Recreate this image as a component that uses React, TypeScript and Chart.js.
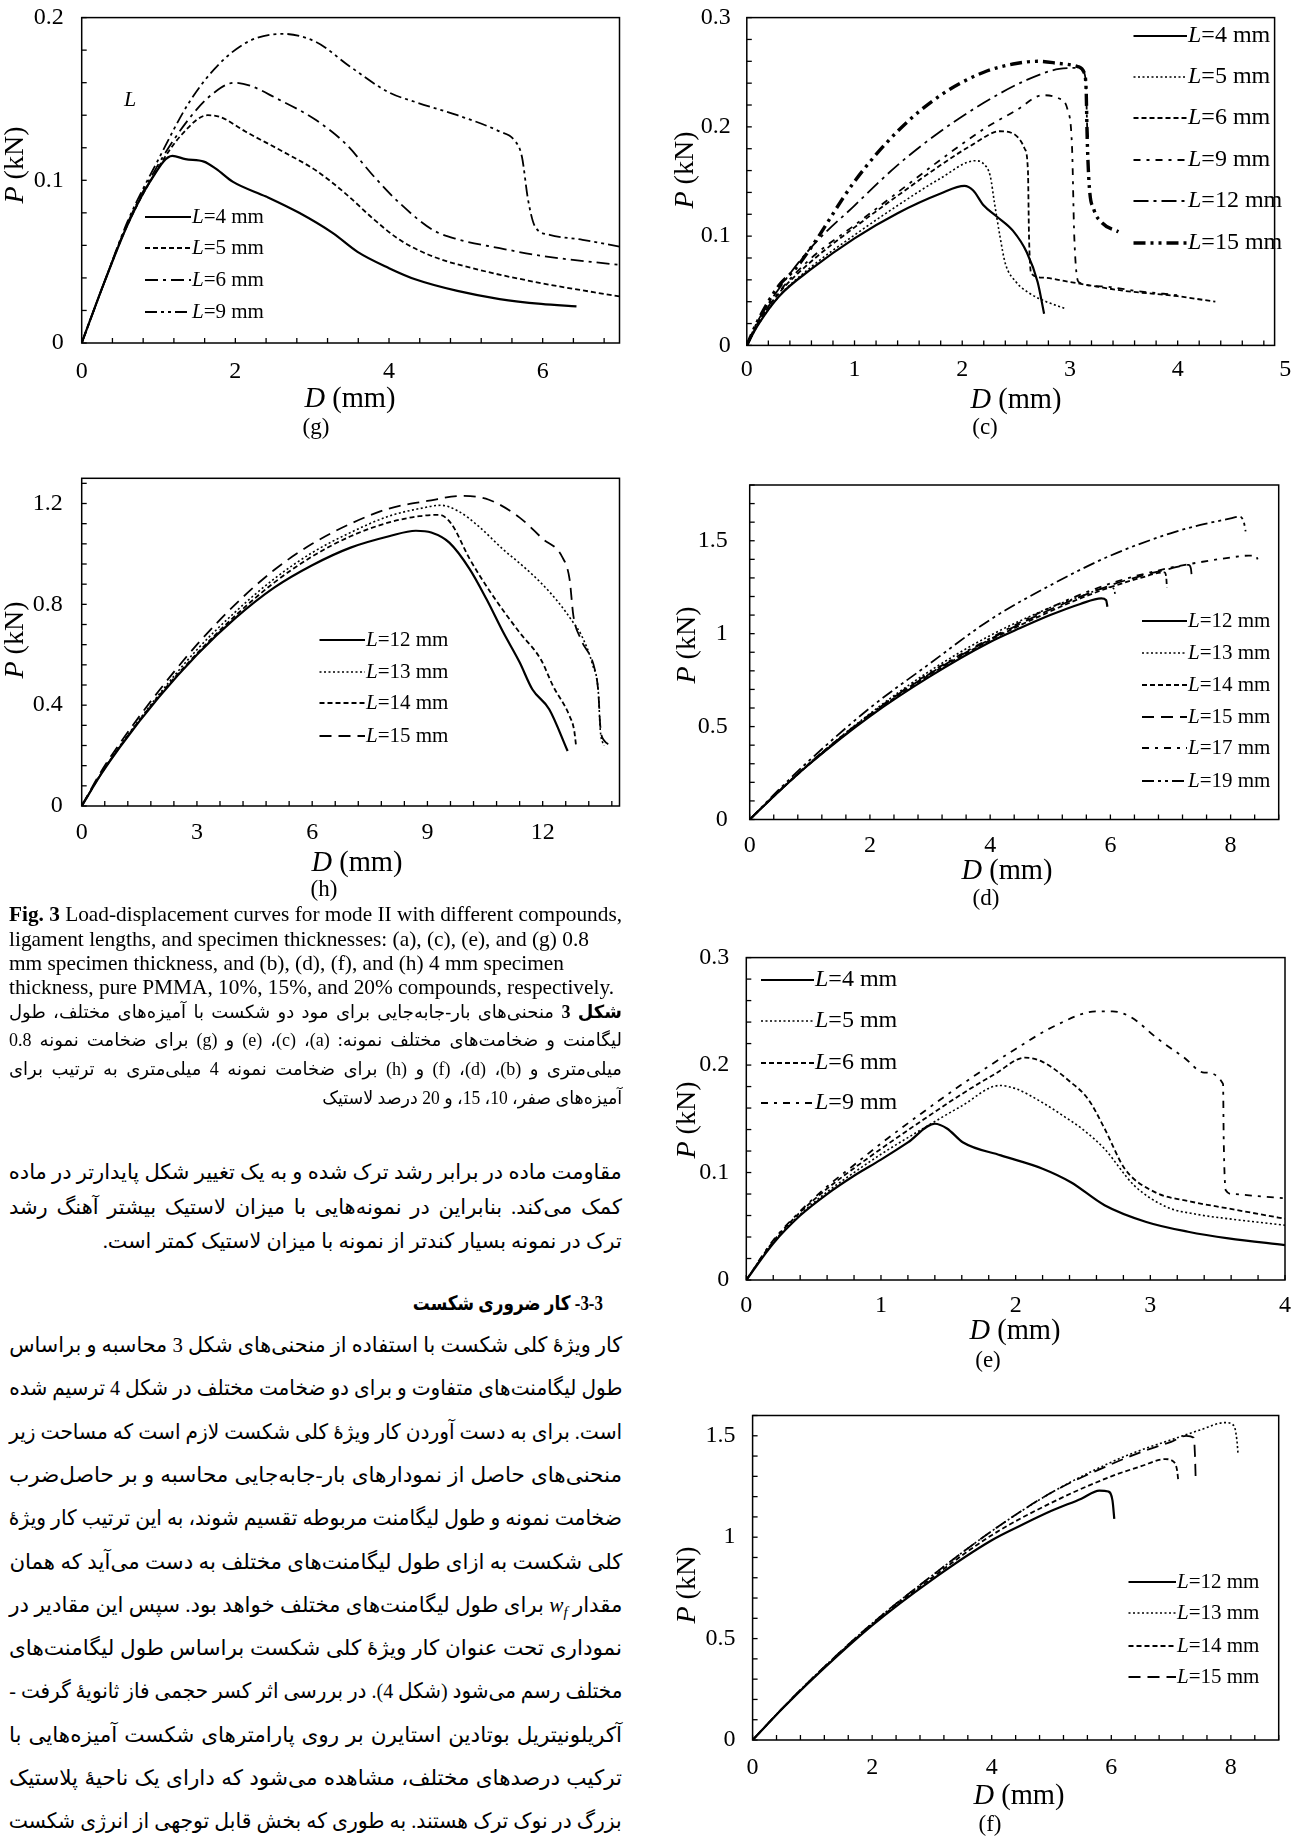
import React, { useEffect, useLayoutEffect, useRef } from 'react';
import { Chart, registerables } from 'chart.js';
Chart.register(...registerables);

const SERIF = '"Liberation Serif", "Times New Roman", serif';
const FA = '"Liberation Serif", "DejaVu Sans", sans-serif';
const Z = '\u200c';

// ---------------- (g) 0.8 mm, 20% ----------------
const G_L4_X = [0, 0.3, 0.6, 0.9, 1.18, 1.35, 1.59, 1.75, 1.97, 2.4, 2.83, 3.27, 3.59, 4.0, 4.35, 4.89, 5.44, 5.98, 6.44];
const G_L4_Y = [0, 0.038, 0.073, 0.1, 0.115, 0.113, 0.1115, 0.107, 0.099, 0.09, 0.08, 0.0675, 0.056, 0.046, 0.039, 0.032, 0.027, 0.024, 0.0225];
const G_L5_X = [0, 0.3, 0.6, 1.0, 1.3, 1.64, 1.8, 2.13, 2.62, 3.05, 3.43, 3.81, 4.14, 4.57, 5.17, 5.98, 7.0];
const G_L5_Y = [0, 0.038, 0.073, 0.108, 0.128, 0.14, 0.139, 0.13, 0.1176, 0.106, 0.092, 0.0757, 0.0634, 0.0532, 0.045, 0.0368, 0.0286];
const G_L6_X = [0, 0.3, 0.6, 1.0, 1.4, 1.7, 1.99, 2.2, 2.51, 3.05, 3.43, 3.81, 4.14, 4.57, 4.89, 5.44, 5.98, 7.0];
const G_L6_Y = [0, 0.038, 0.074, 0.11, 0.138, 0.153, 0.16, 0.158, 0.151, 0.137, 0.1227, 0.102, 0.0859, 0.0695, 0.0638, 0.0583, 0.0536, 0.048];
const G_L9_X = [0, 0.3, 0.6, 1.0, 1.4, 1.8, 2.2, 2.62, 3.05, 3.49, 4.0, 4.35, 4.89, 5.44, 5.63, 5.73, 5.81, 5.9, 6.09, 6.52, 7.0];
const G_L9_Y = [0, 0.038, 0.075, 0.113, 0.148, 0.172, 0.186, 0.19, 0.185, 0.17, 0.154, 0.148, 0.14, 0.13, 0.1247, 0.1145, 0.088, 0.0716, 0.0665, 0.0634, 0.0593];

// ---------------- (c) 0.8 mm, 10% ----------------
const C_L4_X = [0, 0.1, 0.3, 0.6, 1.0, 1.4, 1.8, 2.02, 2.1, 2.2, 2.32, 2.47, 2.6, 2.7, 2.76];
const C_L4_Y = [0, 0.018, 0.045, 0.07, 0.098, 0.121, 0.139, 0.146, 0.142, 0.128, 0.118, 0.105, 0.085, 0.058, 0.029];
const C_L5_X = [0, 0.1, 0.3, 0.6, 1.0, 1.4, 1.8, 2.12, 2.2, 2.26, 2.3, 2.35, 2.4, 2.5, 2.62, 2.78, 2.95];
const C_L5_Y = [0, 0.018, 0.045, 0.072, 0.101, 0.128, 0.153, 0.169, 0.166, 0.155, 0.13, 0.1, 0.075, 0.058, 0.048, 0.04, 0.034];
const C_L6_X = [0, 0.1, 0.3, 0.6, 1.0, 1.4, 1.8, 2.1, 2.35, 2.5, 2.58, 2.61, 2.62, 2.64, 2.75, 3.0, 3.5, 4.0, 4.35];
const C_L6_Y = [0, 0.02, 0.048, 0.077, 0.108, 0.137, 0.165, 0.184, 0.196, 0.192, 0.18, 0.16, 0.1, 0.066, 0.062, 0.058, 0.05, 0.045, 0.04];
const C_L9_X = [0, 0.1, 0.3, 0.6, 1.0, 1.4, 1.8, 2.2, 2.5, 2.75, 2.9, 2.98, 3.02, 3.04, 3.08, 3.3, 3.6, 4.0];
const C_L9_Y = [0, 0.02, 0.049, 0.08, 0.11, 0.14, 0.17, 0.198, 0.215, 0.229, 0.226, 0.215, 0.18, 0.1, 0.058, 0.054, 0.05, 0.046];
const C_L12_X = [0, 0.1, 0.3, 0.6, 1.0, 1.4, 1.8, 2.2, 2.6, 2.9, 3.08, 3.13, 3.15, 3.16, 3.17];
const C_L12_Y = [0, 0.022, 0.052, 0.09, 0.128, 0.165, 0.196, 0.222, 0.243, 0.253, 0.254, 0.25, 0.235, 0.2, 0.19];
const C_L15_X = [0, 0.1, 0.3, 0.45, 0.6, 1.0, 1.4, 1.8, 2.2, 2.5, 2.7, 2.9, 3.08, 3.13, 3.15, 3.16, 3.18, 3.22, 3.3, 3.45];
const C_L15_Y = [0, 0.022, 0.055, 0.07, 0.09, 0.15, 0.196, 0.229, 0.25, 0.258, 0.26, 0.258, 0.255, 0.25, 0.235, 0.19, 0.145, 0.125, 0.112, 0.104];

// ---------------- (h) 4 mm, 20% ----------------
const H_L12_X = [0, 0.5, 1, 2, 3, 4, 5, 6, 7, 8, 8.7, 9.1, 9.57, 10.1, 10.54, 10.97, 11.4, 11.73, 12.17, 12.65];
const H_L12_Y = [0, 0.125, 0.235, 0.43, 0.6, 0.745, 0.865, 0.955, 1.025, 1.07, 1.092, 1.085, 1.045, 0.94, 0.82, 0.69, 0.57, 0.463, 0.384, 0.218];
const H_L13_X = [0, 0.5, 1, 2, 3, 4, 5, 6, 7, 8, 8.8, 9.35, 9.8, 10.33, 10.97, 11.5, 11.95, 12.4, 12.8, 13.0, 13.3, 13.45, 13.5, 13.6];
const H_L13_Y = [0, 0.128, 0.24, 0.44, 0.62, 0.77, 0.9, 1.005, 1.085, 1.15, 1.18, 1.193, 1.17, 1.11, 1.018, 0.95, 0.886, 0.81, 0.727, 0.68, 0.56, 0.45, 0.3, 0.24];
const H_L14_X = [0, 0.5, 1, 2, 3, 4, 5, 6, 7, 8, 8.8, 9.3, 9.62, 10.1, 10.65, 11.4, 11.95, 12.27, 12.7, 12.82, 12.87];
const H_L14_Y = [0, 0.126, 0.237, 0.435, 0.605, 0.755, 0.885, 0.99, 1.07, 1.125, 1.15, 1.155, 1.12, 0.98, 0.846, 0.688, 0.582, 0.476, 0.357, 0.3, 0.238];
const H_L15_X = [0, 0.5, 1, 2, 3, 4, 5, 6, 7, 8, 9, 9.9, 10.6, 11.4, 12.0, 12.5, 12.7, 12.8, 13.0, 13.36, 13.45, 13.5, 13.6, 13.85];
const H_L15_Y = [0, 0.135, 0.25, 0.455, 0.64, 0.8, 0.935, 1.04, 1.12, 1.18, 1.21, 1.23, 1.215, 1.144, 1.06, 0.99, 0.9, 0.754, 0.66, 0.54, 0.45, 0.317, 0.26, 0.24];

// ---------------- (d) 4 mm, 10% ----------------
const D_L12_X = [0, 0.5, 1, 2, 3, 4, 4.5, 5, 5.5, 5.85, 5.93, 5.95];
const D_L12_Y = [0, 0.155, 0.3, 0.555, 0.77, 0.955, 1.03, 1.1, 1.16, 1.19, 1.18, 1.145];
const D_L13_X = [0, 0.5, 1, 2, 3, 4, 5, 5.5, 6.0, 6.06, 6.08];
const D_L13_Y = [0, 0.157, 0.305, 0.57, 0.8, 0.99, 1.14, 1.2, 1.25, 1.24, 1.21];
const D_L14_X = [0, 0.5, 1, 2, 3, 4, 5, 5.5, 6, 6.5, 6.9, 6.93, 6.94];
const D_L14_Y = [0, 0.155, 0.3, 0.56, 0.78, 0.965, 1.12, 1.19, 1.25, 1.3, 1.33, 1.3, 1.25];
const D_L15_X = [0, 0.5, 1, 2, 3, 4, 5, 6, 6.5, 7, 7.3, 7.34, 7.35];
const D_L15_Y = [0, 0.156, 0.302, 0.565, 0.785, 0.97, 1.13, 1.26, 1.31, 1.35, 1.37, 1.35, 1.32];
const D_L17_X = [0, 0.5, 1, 2, 3, 4, 5, 6, 7, 7.5, 8, 8.3, 8.42, 8.45];
const D_L17_Y = [0, 0.157, 0.305, 0.565, 0.79, 0.975, 1.14, 1.27, 1.355, 1.385, 1.41, 1.42, 1.42, 1.4];
const D_L19_X = [0, 0.5, 1, 2, 3, 4, 5, 6, 7, 7.5, 8, 8.15, 8.22, 8.25];
const D_L19_Y = [0, 0.165, 0.32, 0.6, 0.84, 1.075, 1.26, 1.42, 1.54, 1.585, 1.62, 1.63, 1.6, 1.55];

// ---------------- (e) 0.8 mm, 15% ----------------
const E_L4_X = [0, 0.2, 0.4, 0.6, 0.8, 1.0, 1.2, 1.4, 1.49, 1.61, 1.89, 2.2, 2.41, 2.66, 2.97, 3.28, 3.58, 4.0];
const E_L4_Y = [0, 0.034, 0.06, 0.08, 0.097, 0.112, 0.128, 0.1454, 0.141, 0.128, 0.116, 0.1036, 0.091, 0.0696, 0.054, 0.0449, 0.0387, 0.0325];
const E_L5_X = [0, 0.2, 0.4, 0.6, 0.8, 1.0, 1.3, 1.6, 1.88, 2.0, 2.2, 2.35, 2.5, 2.66, 2.88, 3.12, 3.35, 3.58, 4.0];
const E_L5_Y = [0, 0.035, 0.061, 0.082, 0.1, 0.117, 0.14, 0.162, 0.181, 0.178, 0.165, 0.153, 0.14, 0.122, 0.088, 0.068, 0.061, 0.057, 0.051];
const E_L6_X = [0, 0.2, 0.4, 0.6, 0.8, 1.0, 1.3, 1.6, 1.85, 2.07, 2.2, 2.4, 2.54, 2.66, 2.81, 3.03, 3.3, 3.58, 4.0];
const E_L6_Y = [0, 0.036, 0.063, 0.085, 0.104, 0.122, 0.148, 0.173, 0.192, 0.207, 0.203, 0.185, 0.168, 0.141, 0.1036, 0.082, 0.073, 0.0665, 0.057];
const E_L9_X = [0, 0.2, 0.4, 0.6, 0.8, 1.0, 1.3, 1.6, 2.0, 2.3, 2.6, 2.72, 2.85, 3.06, 3.25, 3.4, 3.54, 3.545, 3.56, 3.61, 3.8, 4.0];
const E_L9_Y = [0, 0.037, 0.064, 0.087, 0.107, 0.127, 0.155, 0.182, 0.215, 0.237, 0.25, 0.25, 0.245, 0.224, 0.207, 0.193, 0.1825, 0.13, 0.0835, 0.08, 0.078, 0.076];

// ---------------- (f) 4 mm, 15% ----------------
const F_L12_X = [0, 0.5, 1, 2, 3, 4, 4.5, 5, 5.5, 5.8, 5.95, 6.02, 6.05];
const F_L12_Y = [0, 0.155, 0.3, 0.565, 0.79, 0.985, 1.06, 1.13, 1.19, 1.23, 1.225, 1.18, 1.09];
const F_L13_X = [0, 0.5, 1, 2, 3, 4, 5, 6, 6.5, 7, 7.5, 7.9, 8.05, 8.1, 8.12];
const F_L13_Y = [0, 0.157, 0.305, 0.575, 0.81, 1.03, 1.22, 1.37, 1.43, 1.48, 1.53, 1.565, 1.55, 1.48, 1.41];
const F_L14_X = [0, 0.5, 1, 2, 3, 4, 5, 6, 6.5, 6.9, 7.05, 7.1, 7.12];
const F_L14_Y = [0, 0.156, 0.302, 0.57, 0.8, 1.01, 1.17, 1.3, 1.35, 1.385, 1.37, 1.33, 1.28];
const F_L15_X = [0, 0.5, 1, 2, 3, 4, 5, 6, 6.5, 7, 7.25, 7.38, 7.4, 7.41];
const F_L15_Y = [0, 0.157, 0.305, 0.575, 0.81, 1.03, 1.22, 1.36, 1.42, 1.47, 1.5, 1.49, 1.4, 1.3];

// line styles
const SOLID: number[] = [];
const DOT = [2, 2.5];
const DASH = [5, 3];
const LDASH = [12, 7];
const DASHDOT = [13, 5, 3, 5];
const DASHDOT2 = [12, 4, 3, 4, 3, 4];
const SDASHDOT = [7, 6, 3, 6];

type Series = { label: string; xs: number[]; ys: number[]; dash: number[]; width: number };
const s = (label: string, xs: number[], ys: number[], dash: number[], width = 1.8): Series => ({ label, xs, ys, dash, width });

const PANELS: any[] = [
  {
    id: 'g', left: 0, top: 0, width: 648, height: 448,
    area: { l: 81.7, t: 17.6, r: 619.5, b: 343 },
    xMax: 7, xMinor: 0.4, xMajor: 2, xExtra: [], yMax: 0.2, yMinor: 0.02, yMajor: 0.1,
    xPad: 14, yPad: 18, legendSize: 21,
    series: [s('4', G_L4_X, G_L4_Y, SOLID, 2.2), s('5', G_L5_X, G_L5_Y, DASH), s('6', G_L6_X, G_L6_Y, DASHDOT), s('9', G_L9_X, G_L9_Y, DASHDOT2)],
    legend: { x0: 145, x1: 191, rows: [217, 248, 280, 312] },
    xTitle: { x: 350, y: 400 }, yTitle: { x: 16, y: 165 }, tag: { text: '(g)', x: 316, y: 428 },
    extra: [{ text: 'L', x: 130, y: 100 }],
  },
  {
    id: 'c', left: 648, top: 0, width: 648, height: 448,
    area: { l: 746.8, t: 17.6, r: 1274.6, b: 345.4 },
    xMax: 4.9, xMinor: 0.2, xMajor: 1, xExtra: [5], yMax: 0.3, yMinor: 0.02, yMajor: 0.1,
    xPad: 10, yPad: 16, legendSize: 24,
    series: [s('4', C_L4_X, C_L4_Y, SOLID, 2.2), s('5', C_L5_X, C_L5_Y, DOT, 1.6), s('6', C_L6_X, C_L6_Y, DASH), s('9', C_L9_X, C_L9_Y, SDASHDOT), s('12', C_L12_X, C_L12_Y, [15, 5, 3, 5]), s('15', C_L15_X, C_L15_Y, [12, 5, 3, 5, 3, 5], 3.4)],
    legend: { x0: 1133.5, x1: 1187, rows: [36, 77, 118, 160, 201, 243] },
    xTitle: { x: 1016, y: 401 }, yTitle: { x: 686, y: 170 }, tag: { text: '(c)', x: 985, y: 428 },
    extra: [],
  },
  {
    id: 'h', left: 0, top: 460, width: 648, height: 445,
    area: { l: 81.7, t: 478.3, r: 619.5, b: 806 },
    xMax: 14, xMinor: 0.6, xMajor: 3, xExtra: [], yMax: 1.3, yMinor: 0.08, yMajor: 0.4,
    xPad: 12.5, yPad: 19, legendSize: 21,
    series: [s('12', H_L12_X, H_L12_Y, SOLID, 2.2), s('13', H_L13_X, H_L13_Y, DOT, 1.6), s('14', H_L14_X, H_L14_Y, DASH), s('15', H_L15_X, H_L15_Y, LDASH)],
    legend: { x0: 319.5, x1: 365, rows: [640, 672, 703, 736] },
    xTitle: { x: 357, y: 864 }, yTitle: { x: 16, y: 640 }, tag: { text: '(h)', x: 324, y: 890 },
    extra: [],
  },
  {
    id: 'd', left: 648, top: 460, width: 648, height: 460,
    area: { l: 749.7, t: 485, r: 1278.7, b: 819.5 },
    xMax: 8.8, xMinor: 0.4, xMajor: 2, xExtra: [], yMax: 1.8, yMinor: 0.1, yMajor: 0.5,
    xPad: 12, yPad: 22, legendSize: 21,
    series: [s('12', D_L12_X, D_L12_Y, SOLID, 2.2), s('13', D_L13_X, D_L13_Y, DOT, 1.6), s('14', D_L14_X, D_L14_Y, DASH), s('15', D_L15_X, D_L15_Y, LDASH), s('17', D_L17_X, D_L17_Y, SDASHDOT), s('19', D_L19_X, D_L19_Y, DASHDOT2)],
    legend: { x0: 1142, x1: 1187, rows: [621, 653, 685, 717, 748, 781] },
    xTitle: { x: 1007, y: 872 }, yTitle: { x: 688, y: 645 }, tag: { text: '(d)', x: 986, y: 899 },
    extra: [],
  },
  {
    id: 'e', left: 648, top: 930, width: 648, height: 450,
    area: { l: 746.3, t: 957.6, r: 1285, b: 1280 },
    xMax: 4, xMinor: 0.2, xMajor: 1, xExtra: [], yMax: 0.3, yMinor: 0.02, yMajor: 0.1,
    xPad: 11, yPad: 17, legendSize: 24,
    series: [s('4', E_L4_X, E_L4_Y, SOLID, 2.2), s('5', E_L5_X, E_L5_Y, DOT, 1.6), s('6', E_L6_X, E_L6_Y, DASH), s('9', E_L9_X, E_L9_Y, SDASHDOT)],
    legend: { x0: 761, x1: 814, rows: [980, 1021, 1063, 1103] },
    xTitle: { x: 1015, y: 1332 }, yTitle: { x: 688, y: 1120 }, tag: { text: '(e)', x: 988, y: 1361 },
    extra: [],
  },
  {
    id: 'f', left: 648, top: 1380, width: 648, height: 456,
    area: { l: 752.6, t: 1415.5, r: 1278.7, b: 1740 },
    xMax: 8.8, xMinor: 0.4, xMajor: 2, xExtra: [], yMax: 1.6, yMinor: 0.1, yMajor: 0.5,
    xPad: 13.5, yPad: 17, legendSize: 21,
    series: [s('12', F_L12_X, F_L12_Y, SOLID, 2.2), s('13', F_L13_X, F_L13_Y, DOT, 1.6), s('14', F_L14_X, F_L14_Y, DASH), s('15', F_L15_X, F_L15_Y, LDASH)],
    legend: { x0: 1128.5, x1: 1176, rows: [1582, 1613, 1646, 1677] },
    xTitle: { x: 1019, y: 1797 }, yTitle: { x: 688, y: 1585 }, tag: { text: '(f)', x: 990, y: 1825 },
    extra: [],
  },
];

function makeTicks(max: number, step: number, extra: number[]) {
  const n = Math.floor(max / step + 1e-6);
  const out: number[] = [];
  for (let i = 0; i <= n; i++) out.push(+(i * step).toFixed(6));
  extra.forEach((v) => out.push(v));
  return out;
}
const isMajor = (v: number, step: number) => Math.abs(v / step - Math.round(v / step)) < 1e-6;
const fmt = (v: number) => String(+v.toFixed(3));

function drawMixed(ctx: CanvasRenderingContext2D, parts: [string, string][], x: number, y: number, align: string, size: number) {
  let total = 0;
  const widths = parts.map(([t, st]) => {
    ctx.font = `${st} ${size}px ${SERIF}`;
    const w = ctx.measureText(t).width;
    total += w;
    return w;
  });
  let cx = align === 'center' ? x - total / 2 : align === 'right' ? x - total : x;
  ctx.textBaseline = 'middle';
  ctx.textAlign = 'left';
  ctx.fillStyle = '#000';
  parts.forEach(([t, st], i) => {
    ctx.font = `${st} ${size}px ${SERIF}`;
    ctx.fillText(t, cx, y);
    cx += widths[i];
  });
}

function Panel({ spec }: { spec: any }) {
  const ref = useRef<HTMLCanvasElement>(null);
  useEffect(() => {
    const cv = ref.current;
    if (!cv) return;
    const sp = spec;
    const ox = sp.left, oy = sp.top;
    const A = { l: sp.area.l - ox, t: sp.area.t - oy, r: sp.area.r - ox, b: sp.area.b - oy };
    const xTicks = makeTicks(sp.xMax, sp.xMinor, sp.xExtra);
    const yTicks = makeTicks(sp.yMax, sp.yMinor, []);
    const plugin = {
      id: 'frame_' + sp.id,
      afterDatasetsDraw(chart: any) {
        const ctx = chart.ctx;
        const ca = chart.chartArea;
        ctx.save();
        ctx.setLineDash([]);
        ctx.strokeStyle = '#000';
        ctx.lineWidth = 1.5;
        ctx.strokeRect(ca.left, ca.top, ca.right - ca.left, ca.bottom - ca.top);
        ctx.lineWidth = 1.3;
        const xs = chart.scales.x, ys = chart.scales.y;
        xs.ticks.forEach((t: any) => {
          if (t.value > sp.xMax + 1e-9) return;
          const px = xs.getPixelForValue(t.value);
          ctx.beginPath(); ctx.moveTo(px, ca.bottom); ctx.lineTo(px, ca.bottom - 5); ctx.stroke();
        });
        ys.ticks.forEach((t: any) => {
          if (t.value > sp.yMax + 1e-9) return;
          const py = ys.getPixelForValue(t.value);
          ctx.beginPath(); ctx.moveTo(ca.left, py); ctx.lineTo(ca.left + 5, py); ctx.stroke();
        });
        ctx.restore();
      },
      afterDraw(chart: any) {
        const ctx = chart.ctx;
        ctx.save();
        chart.data.datasets.forEach((ds: any, i: number) => {
          const y = sp.legend.rows[i] - oy;
          ctx.strokeStyle = '#000';
          ctx.lineWidth = ds.borderWidth;
          ctx.setLineDash(ds.borderDash);
          ctx.beginPath(); ctx.moveTo(sp.legend.x0 - ox, y); ctx.lineTo(sp.legend.x1 - ox, y); ctx.stroke();
          ctx.setLineDash([]);
          drawMixed(ctx, [['L', 'italic'], ['=' + ds.label + ' mm', 'normal']], sp.legend.x1 - ox + 1, y, 'left', sp.legendSize);
        });
        drawMixed(ctx, [['D', 'italic'], [' (mm)', 'normal']], sp.xTitle.x - ox, sp.xTitle.y - oy, 'center', 28.5);
        ctx.save();
        ctx.translate(sp.yTitle.x - ox, sp.yTitle.y - oy);
        ctx.rotate(-Math.PI / 2);
        drawMixed(ctx, [['P', 'italic'], [' (kN)', 'normal']], 0, 0, 'center', 28);
        ctx.restore();
        drawMixed(ctx, [[sp.tag.text, 'normal']], sp.tag.x - ox, sp.tag.y - oy, 'center', 23);
        sp.extra.forEach((e: any) => drawMixed(ctx, [[e.text, 'italic']], e.x - ox, e.y - oy, 'center', 22));
        ctx.restore();
      },
    };
    const chart = new Chart(cv, {
      type: 'scatter',
      data: {
        datasets: sp.series.map((sr: Series) => ({
          label: sr.label,
          data: sr.xs.map((x, i) => ({ x, y: sr.ys[i] })),
          showLine: true,
          borderColor: '#000',
          backgroundColor: '#000',
          borderWidth: sr.width,
          borderDash: sr.dash,
          borderCapStyle: 'butt',
          pointRadius: 0,
          pointHoverRadius: 0,
          cubicInterpolationMode: 'monotone',
          fill: false,
        })),
      },
      options: {
        responsive: false,
        maintainAspectRatio: false,
        animation: false,
        devicePixelRatio: 1,
        events: [],
        layout: { padding: { left: 0, top: A.t, right: sp.width - A.r, bottom: 0 } },
        plugins: { legend: { display: false }, tooltip: { enabled: false }, title: { display: false } },
        scales: {
          x: {
            type: 'linear', position: 'bottom', min: 0, max: sp.xMax,
            grid: { display: false, drawTicks: false }, border: { display: false },
            ticks: {
              autoSkip: false, maxRotation: 0, minRotation: 0, padding: sp.xPad, color: '#000',
              font: { family: SERIF, size: 24 },
              callback: (v: any) => (isMajor(Number(v), sp.xMajor) ? fmt(Number(v)) : ''),
            },
            afterBuildTicks: (sc: any) => { sc.ticks = xTicks.map((v) => ({ value: v })); },
            afterFit: (sc: any) => {
              sc.height = sp.height - A.b;
              sc.paddingLeft = 0; sc.paddingRight = 0; sc.paddingTop = 0; sc.paddingBottom = 0;
            },
          },
          y: {
            type: 'linear', position: 'left', min: 0, max: sp.yMax,
            grid: { display: false, drawTicks: false }, border: { display: false },
            ticks: {
              autoSkip: false, padding: sp.yPad, color: '#000',
              font: { family: SERIF, size: 24 },
              callback: (v: any) => (isMajor(Number(v), sp.yMajor) ? fmt(Number(v)) : ''),
            },
            afterBuildTicks: (sc: any) => { sc.ticks = yTicks.map((v) => ({ value: v })); },
            afterFit: (sc: any) => {
              sc.width = A.l;
              sc.paddingLeft = 0; sc.paddingRight = 0; sc.paddingTop = 0; sc.paddingBottom = 0;
            },
          },
        },
      } as any,
      plugins: [plugin],
    } as any);
    return () => chart.destroy();
  }, [spec]);
  return (
    <canvas
      ref={ref}
      width={spec.width}
      height={spec.height}
      style={{ position: 'absolute', left: spec.left, top: spec.top, width: spec.width, height: spec.height }}
    />
  );
}

function FitLine(props: any) {
  const { x, y, width, lh, size, rtl, mode, bold, family, children } = props;
  const ref = useRef<HTMLSpanElement>(null);
  useLayoutEffect(() => {
    const el = ref.current;
    if (!el) return;
    el.style.wordSpacing = '0px';
    el.style.transform = 'none';
    const w = el.getBoundingClientRect().width;
    const txt = el.textContent || '';
    const spaces = (txt.match(/ /g) || []).length;
    if (w > width) el.style.transform = `scaleX(${width / w})`;
    else if (mode === 'justify' && spaces > 0) el.style.wordSpacing = `${(width - w) / spaces}px`;
  }, [width, mode]);
  return (
    <div
      dir={rtl ? 'rtl' : 'ltr'}
      style={{
        position: 'absolute', left: x, top: y - lh / 2, width, height: lh, lineHeight: lh + 'px',
        fontSize: size, fontFamily: family, textAlign: rtl ? 'right' : 'left', whiteSpace: 'nowrap',
        fontWeight: bold ? 'bold' : 'normal', color: '#000',
      }}
    >
      <span ref={ref} style={{ display: 'inline-block', transformOrigin: rtl ? 'right center' : 'left center' }}>
        {children}
      </span>
    </div>
  );
}

const EN_CAPTION: any[] = [
  [<b key="b">Fig. 3</b>, ' Load-displacement curves for mode II with different compounds,'],
  ['ligament lengths, and specimen thicknesses: (a), (c), (e), and (g) 0.8'],
  ['mm specimen thickness, and (b), (d), (f), and (h) 4 mm specimen'],
  ['thickness, pure PMMA, 10%, 15%, and 20% compounds, respectively.'],
];
const EN_WIDTHS = [613, 580, 555, 605];
const EN_Y = [914, 939, 963, 987];

const FA_CAPTION: any[] = [
  [<b key="b">شکل 3</b>, ` منحنی${Z}های بار-جابه${Z}جایی برای مود دو شکست با آمیزه${Z}های مختلف، طول`],
  [`لیگامنت و ضخامت${Z}های مختلف نمونه: (a)، (c)، (e) و (g) برای ضخامت نمونه 0.8`],
  [`میلی${Z}متری و (b)، (d)، (f) و (h) برای ضخامت نمونه 4 میلی${Z}متری به ترتیب برای`],
  [`آمیزه${Z}های صفر، 10، 15، و 20 درصد لاستیک`],
];
const FA_CAPTION_Y = [1012, 1040, 1069, 1098];
const FA_CAPTION_W = [613, 613, 613, 300];

const FA_PARA: string[] = [
  'مقاومت ماده در برابر رشد ترک شده و به یک تغییر شکل پایدارتر در ماده',
  `کمک می${Z}کند. بنابراین در نمونه${Z}هایی با میزان لاستیک بیشتر آهنگ رشد`,
  'ترک در نمونه بسیار کندتر از نمونه با میزان لاستیک کمتر است.',
];
const FA_PARA_Y = [1172, 1207, 1241];
const FA_PARA_W = [613, 613, 519];

const FA_HEADING = '3-3- کار ضروری شکست';

const FA_BODY: any[] = [
  [`کار ویژهٔ کلی شکست با استفاده از منحنی${Z}های شکل 3 محاسبه و براساس`],
  [`طول لیگامنت${Z}های متفاوت و برای دو ضخامت مختلف در شکل 4 ترسیم شده`],
  ['است. برای به دست آوردن کار ویژهٔ کلی شکست لازم است که مساحت زیر'],
  [`منحنی${Z}های حاصل از نمودارهای بار-جابه${Z}جایی محاسبه و بر حاصل${Z}ضرب`],
  ['ضخامت نمونه و طول لیگامنت مربوطه تقسیم شوند، به این ترتیب کار ویژهٔ'],
  [`کلی شکست به ازای طول لیگامنت${Z}های مختلف به دست می${Z}آید که همان`],
  ['مقدار ', <i key="w" style={{ fontFamily: SERIF }}>w<sub style={{ fontSize: '0.7em' }}>f</sub></i>, ` برای طول لیگامنت${Z}های مختلف خواهد بود. سپس این مقادیر در`],
  [`نموداری تحت عنوان کار ویژهٔ کلی شکست براساس طول لیگامنت${Z}های`],
  [`مختلف رسم می${Z}شود (شکل 4). در بررسی اثر کسر حجمی فاز ثانویهٔ گرفت -`],
  [`آکریلونیتریل بوتادین استایرن بر روی پارامترهای شکست آمیزه${Z}هایی با`],
  [`ترکیب درصدهای مختلف، مشاهده می${Z}شود که دارای یک ناحیهٔ پلاستیک`],
  ['بزرگ در نوک ترک هستند. به طوری که بخش قابل توجهی از انرژی شکست'],
];
const FA_BODY_TOP = 1345;
const FA_BODY_STEP = 43.3;

export default function App() {
  return (
    <div
      style={{
        position: 'absolute', left: 0, top: 0, width: 1296, height: 1836, background: '#fff',
        overflow: 'hidden', fontFamily: SERIF, color: '#000',
      }}
    >
      {PANELS.map((p) => (
        <Panel key={p.id} spec={p} />
      ))}
      {EN_CAPTION.map((parts, i) => (
        <FitLine key={'en' + i} x={9} y={EN_Y[i]} width={EN_WIDTHS[i]} lh={24.6} size={21.5} family={SERIF} mode="justify">
          {parts}
        </FitLine>
      ))}
      {FA_CAPTION.map((parts, i) => (
        <FitLine key={'fc' + i} x={622 - FA_CAPTION_W[i]} y={FA_CAPTION_Y[i]} width={FA_CAPTION_W[i]} lh={28} size={18} family={FA} rtl mode="justify">
          {parts}
        </FitLine>
      ))}
      {FA_PARA.map((t, i) => (
        <FitLine key={'fp' + i} x={622 - FA_PARA_W[i]} y={FA_PARA_Y[i]} width={FA_PARA_W[i]} lh={34} size={21} family={FA} rtl mode="justify">
          {t}
        </FitLine>
      ))}
      <FitLine x={413} y={1303} width={190} lh={36} size={20} family={FA} rtl bold mode="justify">
        {FA_HEADING}
      </FitLine>
      {FA_BODY.map((parts, i) => (
        <FitLine key={'fb' + i} x={9} y={FA_BODY_TOP + FA_BODY_STEP * i} width={613} lh={40} size={21.5} family={FA} rtl mode="justify">
          {parts}
        </FitLine>
      ))}
    </div>
  );
}
